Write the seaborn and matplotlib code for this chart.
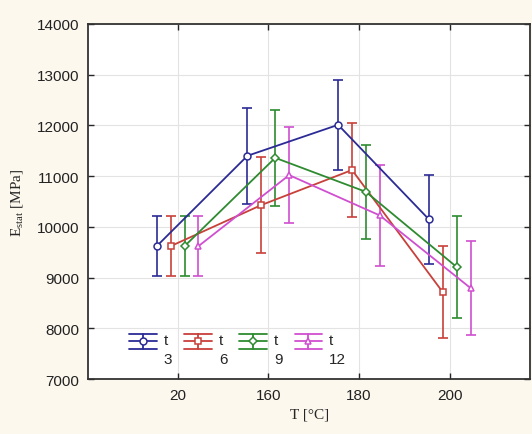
import numpy as np
import pandas as pd
import matplotlib.pyplot as plt
import seaborn as sns
from matplotlib.lines import Line2D
from matplotlib.legend_handler import HandlerBase

# data
temps = ["20", "160", "180", "200"]
times = ["3", "6", "9", "12"]

e_t3 = [9620, 11400, 12010, 10150]
e_t6 = [9620, 10430, 11120, 8715]
e_t9 = [9620, 11360, 10690, 9210]
e_t12 = [9620, 11020, 10225, 8795]

err_t3 = [590, 950, 890, 880]
err_t6 = [590, 940, 930, 905]
err_t9 = [590, 950, 920, 1000]
err_t12 = [590, 950, 995, 925]

colors = ["#2b2b95", "#c8403a", "#2e8b30", "#d04fd0"]
markers = ["o", "s", "D", "^"]
msizes = [5, 5, 3.8, 5]

means = [e_t3, e_t6, e_t9, e_t12]
errs = [err_t3, err_t6, err_t9, err_t12]

rows = []
for t, vals in zip(times, means):
    for T, v in zip(temps, vals):
        rows.append({"T": T, "E": v, "t": t})
df = pd.DataFrame(rows)

sns.set_style("ticks")
plt.rcParams["font.family"] = ["Liberation Sans", "DejaVu Sans"]
plt.rcParams["mathtext.fontset"] = "custom"
plt.rcParams["mathtext.rm"] = "Liberation Serif"


class ErrHandler(HandlerBase):
    # legend symbol: line + marker with wide caps above and below
    def create_artists(self, legend, orig_handle, xdescent, ydescent,
                       width, height, fontsize, trans):
        c = orig_handle.get_color()
        yc = (height - ydescent) / 2 + 0.55 * fontsize
        x0, x1 = -xdescent, width - xdescent
        xm = (x0 + x1) / 2
        h = 0.5 * fontsize
        arts = [
            Line2D([x0, x1], [yc, yc], color=c, lw=1.3),
            Line2D([x0, x1], [yc + h, yc + h], color=c, lw=1.3),
            Line2D([x0, x1], [yc - h, yc - h], color=c, lw=1.3),
            Line2D([xm, xm], [yc - h, yc + h], color=c, lw=1.3),
            Line2D([xm], [yc], marker=orig_handle.get_marker(),
                   ms=orig_handle.get_markersize(), mfc="white", mec=c, mew=1.1),
        ]
        for a in arts:
            a.set_transform(trans)
        return arts


fig, ax = plt.subplots(figsize=(5.32, 4.35), dpi=100)
fig.patch.set_facecolor("#fcf8ee")
fig.subplots_adjust(left=0.165, right=0.997, bottom=0.126, top=0.943)

sns.pointplot(data=df, x="T", y="E", hue="t", order=temps, hue_order=times,
              palette=colors, markers=markers, linestyles="-", dodge=0.46,
              errorbar=None, linewidth=1.3, markersize=5, markeredgewidth=1.1,
              legend=False, ax=ax)

lines = list(ax.lines)[:4]
for i, line in enumerate(lines):
    line.set_markerfacecolor("white")
    line.set_markersize(msizes[i])
    line.set_zorder(3)
    ax.errorbar(line.get_xdata(), line.get_ydata(), yerr=errs[i], fmt="none",
                ecolor=colors[i], elinewidth=1.2, capsize=3.5, capthick=1.2,
                zorder=2.5)

ax.set_facecolor("white")
ax.set_ylim(7000, 14000)
ax.set_yticks(range(7000, 14001, 1000))
ax.set_xlim(-0.99, 3.89)
ax.grid(True, color="#e3e3e3", lw=0.8)
ax.set_axisbelow(True)

ax.tick_params(direction="in", top=True, right=True, length=4, width=1,
               labelsize=11, labelcolor="#222222", pad=6)
for sp in ax.spines.values():
    sp.set_linewidth(1.3)
    sp.set_color("#333333")

ax.set_xlabel("T [°C]", family="Liberation Serif", fontsize=11, labelpad=4)
ax.set_ylabel(r"E$_{\rm stat}$ [MPa]", family="Liberation Serif", fontsize=11, labelpad=8)

leg = ax.legend(handles=lines, labels=[f"t\n{t}" for t in times],
                handler_map={Line2D: ErrHandler()}, ncol=4, loc="lower left",
                bbox_to_anchor=(0.08, 0.02), frameon=False, fontsize=11,
                handlelength=1.8, handletextpad=0.45, columnspacing=0.8,
                borderaxespad=0)
for txt in leg.get_texts():
    txt.set_linespacing(1.45)

fig.savefig("out.png", dpi=100, facecolor=fig.get_facecolor())
